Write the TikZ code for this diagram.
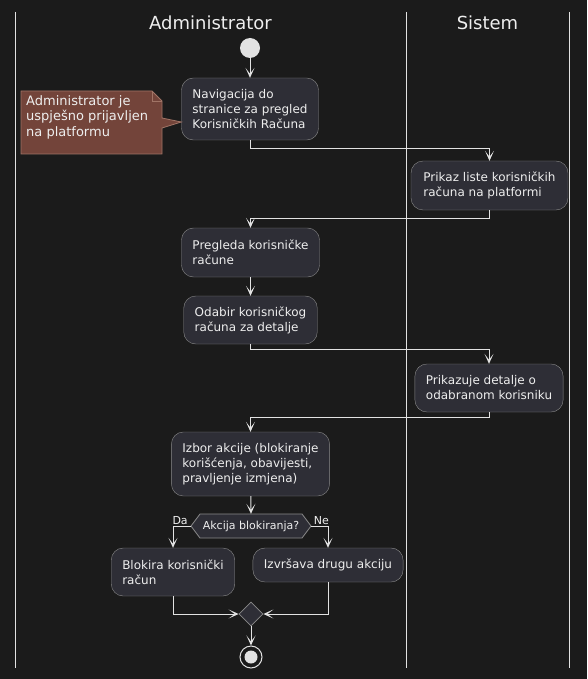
\documentclass[tikz,border=0pt]{standalone}
\usepackage{fontspec}
\setmainfont{DejaVu Sans}
\usetikzlibrary{arrows.meta,shapes.geometric}

\definecolor{pozadina}{HTML}{1B1B1B}
\definecolor{kutija}{HTML}{2E2E36}
\definecolor{rub}{HTML}{8A8A8A}
\definecolor{linija}{HTML}{E2E2E2}
\definecolor{tekst}{HTML}{EEEEEE}
\definecolor{biljeska}{HTML}{73443A}
\definecolor{biljeskarub}{HTML}{A07466}

\tikzset{
  akcija/.style={draw=rub, fill=kutija, rounded corners=12pt, text=tekst,
    align=left, inner xsep=11pt, inner ysep=0pt, font=\fontsize{12}{15}\selectfont},
  tok/.style={draw=linija, line width=0.9pt,
    -{Stealth[length=10pt,width=9pt,inset=6pt]}},
  staza/.style={draw=linija, line width=0.9pt},
  naslov/.style={text=tekst, font=\fontsize{18}{20}\selectfont},
  oznaka/.style={text=tekst, font=\fontsize{11}{13}\selectfont, inner sep=1pt},
  biljeskatekst/.style={text=tekst, align=left, anchor=north west, inner sep=0pt,
    font=\fontsize{13}{15.5}\selectfont}
}

\begin{document}
\begin{tikzpicture}[x=1pt,y=-1pt]

\fill[pozadina] (0,0) rectangle (587,679);
\useasboundingbox (0,0) rectangle (587,679);

% swimlanes
\foreach \x in {15,406,569}{
  \draw[staza] (\x,12) -- (\x,668);
}
\node[naslov] (admin) at (210.5,23) {Administrator};
\node[naslov] (sistem) at (487.5,23) {Sistem};

% start
\node[circle, fill=linija, minimum size=20pt, inner sep=0pt] (start) at (250,48) {};

% actions
\node[akcija, minimum width=136pt, minimum height=62pt] (nav) at (250,109)
  {Navigacija do\\stranice za pregled\\Korisničkih Računa};
\node[akcija, minimum width=157pt, minimum height=49pt] (prikaz) at (489.5,185.5)
  {Prikaz liste korisničkih\\računa na platformi};
\node[akcija, minimum width=137pt, minimum height=49pt] (pregled) at (250.5,252.5)
  {Pregleda korisničke\\račune};
\node[akcija, minimum width=133pt, minimum height=48pt] (odabir) at (250.5,320)
  {Odabir korisničkog\\računa za detalje};
\node[akcija, minimum width=146pt, minimum height=48pt] (detalji) at (489,388)
  {Prikazuje detalje o\\odabranom korisniku};
\node[akcija, minimum width=157pt, minimum height=64pt] (izbor) at (250.5,464)
  {Izbor akcije (blokiranje\\korišćenja, obavijesti,\\pravljenje izmjena)};
\node[akcija, minimum width=122pt, minimum height=48pt] (blokira) at (173,572)
  {Blokira korisnički\\račun};
\node[akcija, minimum width=148pt, minimum height=34pt] (izvrsava) at (328,565)
  {Izvršava drugu akciju};

% note
\draw[fill=biljeska, draw=biljeskarub, line width=0.8pt]
  (21,91) -- (152,91) -- (162,101) -- (162,118) -- (nav.west |- 0,122)
  -- (162,128) -- (162,154) -- (21,154) -- cycle;
\draw[draw=biljeskarub, line width=0.8pt] (152,91) -- (152,101) -- (162,101);
\node[biljeskatekst] (napomena) at (26,95)
  {Administrator je\\uspješno prijavljen\\na platformu};

% decision
\coordinate (odlukasredina) at (251,526);
\draw[fill=kutija, draw=rub, line width=0.8pt]
  (191,526) -- (200,514) -- (302,514) -- (311,526) -- (302,538) -- (200,538) -- cycle;
\node[oznaka, minimum width=120pt, minimum height=24pt, inner sep=0pt] (odluka) at (odlukasredina) {Akcija blokiranja?};

% merge
\node[diamond, draw=rub, fill=kutija, minimum size=24pt, inner sep=0pt, line width=0.8pt] (spoj) at (251,614) {};

% end
\node[circle, draw=linija, fill=pozadina, line width=1pt, minimum size=22pt, inner sep=0pt] (kraj) at (251,657) {};
\fill[linija] (kraj) circle (6.5pt);

% flow
\draw[tok] (start) -- (nav);
\draw[tok] (nav.south) -- ++(0,8) -| (prikaz.north);
\draw[tok] (prikaz.south) -- ++(0,8) -| (pregled.north);
\draw[tok] (pregled) -- (odabir);
\draw[tok] (odabir.south) -- ++(0,5) -| (detalji.north);
\draw[tok] (detalji.south) -- ++(0,5) -| (izbor.north);
\draw[tok] (izbor) -- (odluka.north);
\draw[tok] (odluka.west) -| node[oznaka, pos=0.3, above] {Da} (blokira.north);
\draw[tok] (odluka.east) -| node[oznaka, pos=0.3, above] {Ne} (izvrsava.north);
\draw[tok] (blokira.south) |- (spoj.west);
\draw[tok] (izvrsava.south) |- (spoj.east);
\draw[tok] (spoj) -- (kraj);

\end{tikzpicture}
\end{document}
